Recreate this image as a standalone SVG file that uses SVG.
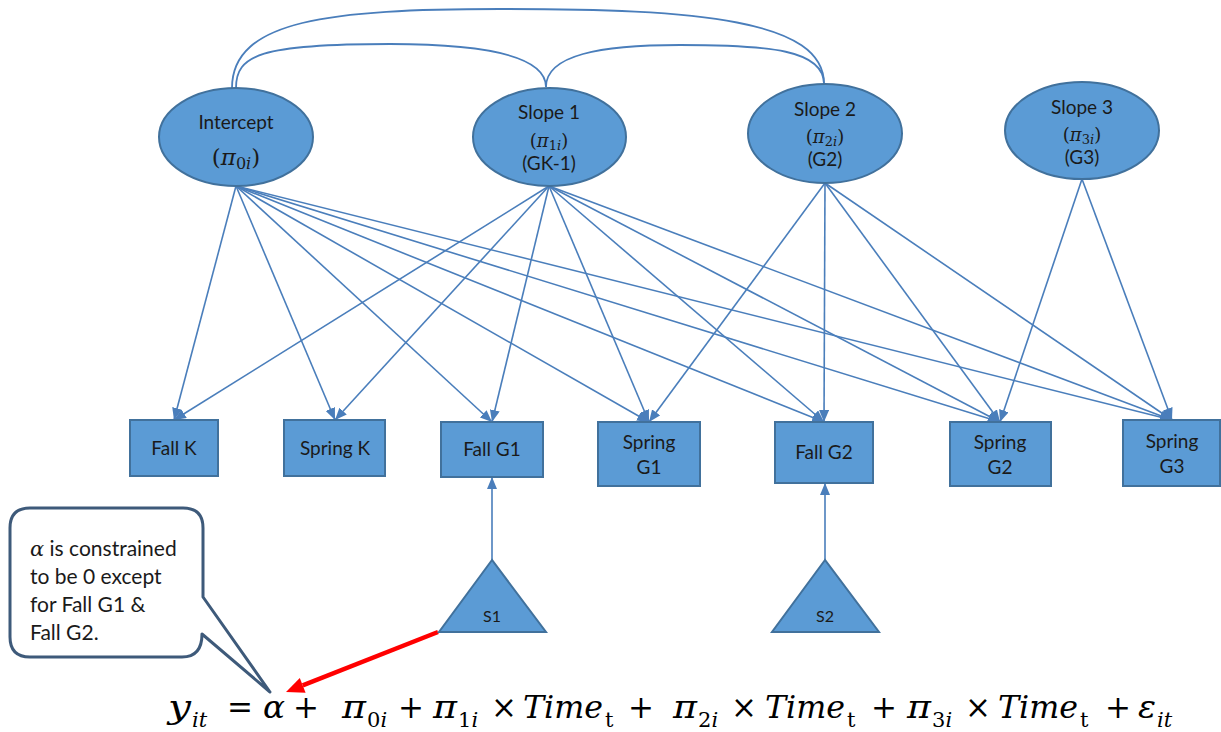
<svg xmlns="http://www.w3.org/2000/svg" width="1221" height="732" viewBox="0 0 1221 732">
<style>
.node{fill:#5B9BD5;stroke:#41719C;stroke-width:2}
.lbl{font-family:Lato,"Open Sans",sans-serif;font-size:19px;fill:#1a1a1a;text-anchor:middle}
.sm{font-family:Lato,"Open Sans",sans-serif;font-size:16px;fill:#1a1a1a;text-anchor:middle}
.mth{font-family:"DejaVu Serif",serif;fill:#1a1a1a;text-anchor:middle}
.edge{stroke:#4A7EBB;stroke-width:1.6;fill:none;marker-end:url(#ah)}
.curve{stroke:#4A7EBB;stroke-width:1.8;fill:none}
.eq{font-family:"DejaVu Serif",serif;font-size:31px;fill:#000}
.it{font-style:italic}
.sub{font-family:"DejaVu Serif",serif;font-size:21px;fill:#000}
</style>
<defs>
<marker id="ah" markerUnits="userSpaceOnUse" markerWidth="12" markerHeight="10" viewBox="0 0 12 10" refX="12" refY="5" orient="auto">
<path d="M0,0 L12,5 L0,10 z" fill="#4A7EBB"/>
</marker>
</defs>
<rect width="1221" height="732" fill="#fff"/>

<g id="connectors">
<path class="curve" d="M232,88 C232,20 330,9 500,9 C700,9 824,20 824,84"/>
<path class="curve" d="M236,88 C236,55 260,44 390,44 C500,44 546,60 546,87"/>
<path class="curve" d="M546,87 C546,55 600,45 680,45 C770,45 824,50 824,84"/>
<line class="edge" x1="236" y1="186" x2="174" y2="420"/>
<line class="edge" x1="236" y1="186" x2="335" y2="420"/>
<line class="edge" x1="236" y1="186" x2="492" y2="422"/>
<line class="edge" x1="236" y1="186" x2="649" y2="422"/>
<line class="edge" x1="236" y1="186" x2="824" y2="422"/>
<line class="edge" x1="236" y1="186" x2="1000" y2="422"/>
<line class="edge" x1="236" y1="186" x2="1172" y2="420"/>
<line class="edge" x1="549" y1="186" x2="174" y2="420"/>
<line class="edge" x1="549" y1="186" x2="335" y2="420"/>
<line class="edge" x1="549" y1="186" x2="492" y2="422"/>
<line class="edge" x1="549" y1="186" x2="649" y2="422"/>
<line class="edge" x1="549" y1="186" x2="824" y2="422"/>
<line class="edge" x1="549" y1="186" x2="1000" y2="422"/>
<line class="edge" x1="549" y1="186" x2="1172" y2="420"/>
<line class="edge" x1="825" y1="183" x2="649" y2="422"/>
<line class="edge" x1="825" y1="183" x2="824" y2="422"/>
<line class="edge" x1="825" y1="183" x2="1000" y2="422"/>
<line class="edge" x1="825" y1="183" x2="1172" y2="420"/>
<line class="edge" x1="1082" y1="179" x2="1000" y2="422"/>
<line class="edge" x1="1082" y1="179" x2="1172" y2="420"/>
<line class="edge" x1="492" y1="560" x2="492" y2="477"/>
<line class="edge" x1="825" y1="560" x2="825" y2="483"/>
<line x1="438" y1="632" x2="302.7" y2="685.4" stroke="#FF0000" stroke-width="4.5"/>
<polygon points="286,692 305.6,692.8 299.8,678" fill="#FF0000"/>
</g>

<g id="intercept">
<ellipse class="node" cx="236" cy="137" rx="77" ry="49"/>
<text class="lbl" x="236" y="129">Intercept</text>
<text class="mth" x="236" y="165" font-size="23">(<tspan font-style="italic">π</tspan><tspan font-size="16" dy="4">0</tspan><tspan font-size="16" font-style="italic">i</tspan><tspan dy="-4">)</tspan></text>
</g>
<g id="slope1">
<ellipse class="node" cx="549.5" cy="137" rx="76.5" ry="49"/>
<text class="lbl" x="549" y="119">Slope 1</text>
<text class="mth" x="549" y="147" font-size="18">(<tspan font-style="italic">π</tspan><tspan font-size="13" dy="3">1</tspan><tspan font-size="13" font-style="italic">i</tspan><tspan dy="-3">)</tspan></text>
<text class="lbl" x="549" y="170">(GK-1)</text>
</g>
<g id="slope2">
<ellipse class="node" cx="825" cy="133.5" rx="77" ry="49.5"/>
<text class="lbl" x="825" y="116">Slope 2</text>
<text class="mth" x="825" y="143" font-size="18">(<tspan font-style="italic">π</tspan><tspan font-size="13" dy="3">2</tspan><tspan font-size="13" font-style="italic">i</tspan><tspan dy="-3">)</tspan></text>
<text class="lbl" x="825" y="166">(G2)</text>
</g>
<g id="slope3">
<ellipse class="node" cx="1082" cy="130.5" rx="77" ry="48.5"/>
<text class="lbl" x="1082" y="114">Slope 3</text>
<text class="mth" x="1082" y="141" font-size="18">(<tspan font-style="italic">π</tspan><tspan font-size="13" dy="3">3</tspan><tspan font-size="13" font-style="italic">i</tspan><tspan dy="-3">)</tspan></text>
<text class="lbl" x="1082" y="164">(G3)</text>
</g>

<g id="fallK">
<rect class="node" x="130" y="420" width="88" height="56"/>
<text class="lbl" x="174" y="455">Fall K</text>
</g>
<g id="springK">
<rect class="node" x="284" y="420" width="101" height="56"/>
<text class="lbl" x="335" y="455">Spring K</text>
</g>
<g id="fallG1">
<rect class="node" x="441" y="422" width="102" height="55"/>
<text class="lbl" x="492" y="456">Fall G1</text>
</g>
<g id="springG1">
<rect class="node" x="598" y="422" width="102" height="64"/>
<text class="lbl" x="649" y="449">Spring</text>
<text class="lbl" x="649" y="474">G1</text>
</g>
<g id="fallG2">
<rect class="node" x="775" y="422" width="98" height="61"/>
<text class="lbl" x="824" y="459">Fall G2</text>
</g>
<g id="springG2">
<rect class="node" x="950" y="422" width="101" height="64"/>
<text class="lbl" x="1000" y="449">Spring</text>
<text class="lbl" x="1000" y="474">G2</text>
</g>
<g id="springG3">
<rect class="node" x="1123" y="420" width="97" height="66"/>
<text class="lbl" x="1172" y="448">Spring</text>
<text class="lbl" x="1172" y="473">G3</text>
</g>

<g id="s1">
<polygon class="node" points="492,560 439,632 546,632"/>
<text class="sm" x="492" y="622">S1</text>
</g>
<g id="s2">
<polygon class="node" points="825,560 772,632 879,632"/>
<text class="sm" x="825" y="622">S2</text>
</g>

<g id="callout">
<path d="M30,508 H183 Q203,508 203,528 V597 L270,692 L202,634 Q202,657 182,657 H30 Q10,657 10,637 V528 Q10,508 30,508 Z" fill="#fff" stroke="#3E5A7A" stroke-width="3" stroke-linejoin="round"/>
<text font-family="Lato,'Open Sans',sans-serif" font-size="21" fill="#1a1a1a">
<tspan x="30" y="556"><tspan font-family="'DejaVu Serif',serif" font-style="italic">α</tspan> is constrained</tspan>
<tspan x="30" y="584">to be 0 except</tspan>
<tspan x="30" y="612">for Fall G1 &amp;</tspan>
<tspan x="30" y="640">Fall G2.</tspan>
</text>
</g>

<g id="equation">
<text class="eq it" x="168" y="718" textLength="23" lengthAdjust="spacingAndGlyphs">y</text><text class="sub it" x="192" y="727">it</text>
<text class="eq" x="227" y="718">=</text>
<text class="eq it" x="263" y="718" textLength="22" lengthAdjust="spacingAndGlyphs">α</text>
<text class="eq" x="293" y="718">+</text>
<text class="eq it" x="342" y="718" textLength="24" lengthAdjust="spacingAndGlyphs">π</text><text class="sub" x="367" y="727">0<tspan font-style="italic">i</tspan></text>
<text class="eq" x="398" y="718">+</text>
<text class="eq it" x="433" y="718" textLength="24" lengthAdjust="spacingAndGlyphs">π</text><text class="sub" x="458" y="727">1<tspan font-style="italic">i</tspan></text>
<text class="eq" x="491" y="718">×</text>
<text class="eq it" x="523" y="718" textLength="80" lengthAdjust="spacingAndGlyphs">Time</text><text class="sub" x="605" y="727">t</text>
<text class="eq" x="628" y="718">+</text>
<text class="eq it" x="673" y="718" textLength="24" lengthAdjust="spacingAndGlyphs">π</text><text class="sub" x="698" y="727">2<tspan font-style="italic">i</tspan></text>
<text class="eq" x="731" y="718">×</text>
<text class="eq it" x="765" y="718" textLength="80" lengthAdjust="spacingAndGlyphs">Time</text><text class="sub" x="847" y="727">t</text>
<text class="eq" x="871" y="718">+</text>
<text class="eq it" x="907" y="718" textLength="24" lengthAdjust="spacingAndGlyphs">π</text><text class="sub" x="932" y="727">3<tspan font-style="italic">i</tspan></text>
<text class="eq" x="965" y="718">×</text>
<text class="eq it" x="998" y="718" textLength="80" lengthAdjust="spacingAndGlyphs">Time</text><text class="sub" x="1080" y="727">t</text>
<text class="eq" x="1105" y="718">+</text>
<text class="eq it" x="1138" y="718" textLength="18" lengthAdjust="spacingAndGlyphs">ε</text><text class="sub it" x="1157" y="727">it</text>
</g>
</svg>
